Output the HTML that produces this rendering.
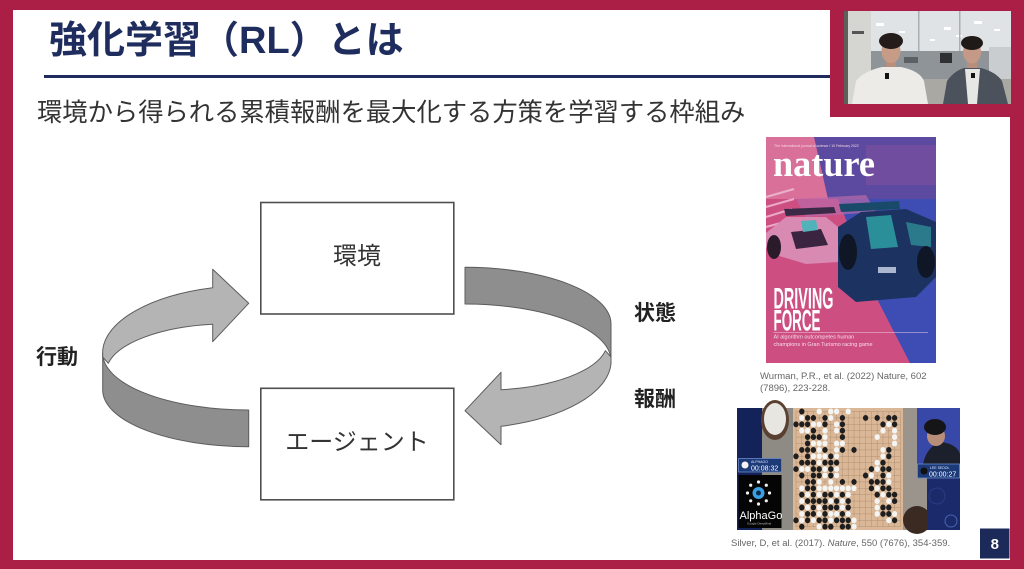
<!DOCTYPE html>
<html><head><meta charset="utf-8">
<style>
html,body{margin:0;padding:0;}
body{width:1024px;height:569px;position:relative;overflow:hidden;background:#ab1f47;font-family:"Liberation Sans","Noto Sans CJK JP",sans-serif;}
.a{position:absolute;white-space:nowrap;line-height:1;}
.jp{font-family:"Liberation Sans","Noto Sans CJK JP",sans-serif;}
</style></head><body>
<div class="a" style="left:13px;top:10px;width:997px;height:550px;background:#fff"></div>
<div class="a" style="left:830px;top:0;width:194px;height:117px;background:#ab1f47"></div>

<!-- title -->
<div class="a jp" style="left:49px;top:22px;font-size:38px;font-weight:700;color:#1e2d5e;">強化学習（RL）とは</div>
<div class="a" style="left:44px;top:75px;width:786px;height:2.5px;background:#1e2b5c"></div>
<div class="a jp" style="left:37px;top:100.5px;font-size:25.3px;color:#333;">環境から得られる累積報酬を最大化する方策を学習する枠組み</div>

<svg class="a" style="left:0;top:0" width="1024" height="569" viewBox="0 0 1024 569">
  <!-- boxes -->
  <rect x="260.8" y="202.5" width="193" height="111.5" fill="#fff" stroke="#4f4f4f" stroke-width="1.6"/>
  <rect x="260.8" y="388.3" width="193" height="111.5" fill="#fff" stroke="#4f4f4f" stroke-width="1.6"/>
  <!-- left arrow -->
  <g stroke="#5c5c5c" stroke-width="1" stroke-linejoin="round">
    <path d="M102.7 353 L102.7 390 A146 56.7 0 0 0 248.7 446.7 L248.7 410 A146 56.7 0 0 1 102.7 353 Z" fill="#8e8e8e"/>
    <path d="M248.7 303.3 L212.7 269.3 L212.7 287.7 A150 68 0 0 0 102.7 350 L102.7 357 L108.3 363.3 C118 343 160 327 212.7 324.3 L212.7 341.7 Z" fill="#b4b4b4"/>
  </g>
  <!-- right arrow (rotated copy) -->
  <g stroke="#5c5c5c" stroke-width="1" stroke-linejoin="round" transform="rotate(180 356.85 357)">
    <path d="M102.7 353 L102.7 390 A146 56.7 0 0 0 248.7 446.7 L248.7 410 A146 56.7 0 0 1 102.7 353 Z" fill="#8e8e8e"/>
    <path d="M248.7 303.3 L212.7 269.3 L212.7 287.7 A150 68 0 0 0 102.7 350 L102.7 357 L108.3 363.3 C118 343 160 327 212.7 324.3 L212.7 341.7 Z" fill="#b4b4b4"/>
  </g>

  <!-- webcam -->
  <g transform="translate(844,11)">
    <rect width="167" height="93" fill="#b8bcbf"/>
    <rect x="27" y="0" width="140" height="40" fill="#dfe3e6"/>
    <g fill="#fff"><rect x="32" y="12" width="8" height="3"/><rect x="55" y="20" width="6" height="2"/><rect x="100" y="16" width="7" height="3"/><rect x="130" y="10" width="8" height="3"/><rect x="150" y="18" width="6" height="2"/><rect x="86" y="28" width="5" height="2"/><rect x="112" y="24" width="6" height="2"/></g>
    <rect x="74" y="0" width="1.5" height="70" fill="#a8aeb2"/>
    <rect x="115" y="0" width="1.5" height="70" fill="#a8aeb2"/>
    <rect x="27" y="40" width="140" height="28" fill="#8f9498"/>
    <rect x="96" y="42" width="12" height="10" fill="#2e3034"/>
    <rect x="60" y="46" width="14" height="6" fill="#5b6064"/>
    <rect x="145" y="36" width="22" height="34" fill="#c9cdd0"/>
    <rect x="27" y="68" width="140" height="25" fill="#a9a8a3"/>
    <rect x="0" y="0" width="27" height="93" fill="#d5d5d1"/>
    <rect x="0" y="0" width="4" height="93" fill="#5e5e5a"/>
    <rect x="8" y="20" width="12" height="3" fill="#555"/>
    <!-- left person -->
    <path d="M8 93 L12 70 Q20 60 38 56 L57 56 Q76 60 80 70 L84 93 Z" fill="#ecebe8"/>
    <rect x="42" y="46" width="10" height="10" fill="#b88f7a"/>
    <ellipse cx="47" cy="40" rx="9.5" ry="12" fill="#c79c86"/>
    <ellipse cx="47" cy="30" rx="12" ry="8" fill="#231c1a"/>
    <rect x="41" y="62" width="4" height="6" fill="#111"/>
    <!-- right person -->
    <path d="M99 93 L103 70 Q110 60 120 57 L137 57 Q152 61 158 70 L164 93 Z" fill="#4b525b"/>
    <path d="M121 58 L136 58 L133 93 L124 93 Z" fill="#e6e6e4"/>
    <rect x="123" y="47" width="10" height="10" fill="#b88f7a"/>
    <ellipse cx="128" cy="41" rx="9" ry="11.5" fill="#c49a86"/>
    <ellipse cx="128" cy="32" rx="11" ry="7" fill="#1f1a18"/>
    <rect x="127" y="62" width="4" height="5" fill="#111"/>
  </g>

  <!-- nature cover -->
  <g transform="translate(766,137)">
    <rect width="170" height="226" fill="#cd4f82"/>
    <rect width="170" height="62" fill="#d9709a"/>
    <polygon points="48,0 170,0 170,226 144,226 110,160" fill="#3d4db3"/>
    <polygon points="48,0 170,0 170,62 62,62" fill="#5b4aa0"/>
    <rect x="100" y="8" width="70" height="40" fill="#7a4f9e" opacity=".7"/>
    <g stroke="#f0c0d8" stroke-width="2" opacity=".8"><line x1="0" y1="60" x2="28" y2="52"/><line x1="0" y1="70" x2="28" y2="62"/><line x1="0" y1="80" x2="26" y2="72"/><line x1="0" y1="90" x2="22" y2="84"/></g>
    <polygon points="30,62 100,58 110,75 40,80" fill="#b86aa8" opacity=".7"/>
    <!-- left car -->
    <polygon points="18,72 68,70 70,76 20,79" fill="#3a2a48"/>
    <polygon points="0,96 20,80 60,80 72,90 72,125 40,127 10,118 0,110" fill="#d88ab2"/>
    <polygon points="25,95 55,92 62,108 30,112" fill="#3a2440"/>
    <polygon points="35,84 50,83 52,93 37,95" fill="#52b2ba"/>
    <ellipse cx="8" cy="110" rx="7" ry="12" fill="#2a1a2a"/>
    <!-- right car -->
    <polygon points="73,67 133,64 134,72 75,75" fill="#1a4a6a"/>
    <polygon points="72,90 95,75 140,72 170,85 170,140 150,160 90,165 72,150" fill="#1c3260"/>
    <polygon points="100,80 125,78 132,110 105,112" fill="#2b8f9a"/>
    <polygon points="140,85 165,90 165,110 145,108" fill="#2a7a8c"/>
    <ellipse cx="82" cy="115" rx="9" ry="18" fill="#0f1626"/>
    <ellipse cx="160" cy="125" rx="9" ry="16" fill="#0f1626"/>
    <rect x="112" y="130" width="18" height="6" fill="#e8f0ff" opacity=".7"/>
    <text x="8" y="10" font-family="Liberation Sans,sans-serif" font-size="3.5" fill="#f6d6e4">The international journal of science / 10 February 2022</text>
    <text x="7" y="39" font-family="Liberation Serif,serif" font-weight="700" font-size="37" fill="#fff" textLength="102" lengthAdjust="spacingAndGlyphs">nature</text>
    <text x="7.5" y="171.5" font-family="Liberation Sans,sans-serif" font-weight="700" font-size="30" fill="#fff" textLength="60" lengthAdjust="spacingAndGlyphs">DRIVING</text>
    <text x="7.5" y="193.5" font-family="Liberation Sans,sans-serif" font-weight="700" font-size="30" fill="#fff" textLength="47" lengthAdjust="spacingAndGlyphs">FORCE</text>
    <line x1="7.5" y1="195.5" x2="162" y2="195.5" stroke="#f0d0e0" stroke-width=".5"/>
    <text x="7.5" y="201.5" font-family="Liberation Sans,sans-serif" font-size="5.5" fill="#f8dce8">AI algorithm outcompetes human</text>
    <text x="7.5" y="209" font-family="Liberation Sans,sans-serif" font-size="5.5" fill="#f8dce8">champions in Gran Turismo racing game</text>
  </g>

  <!-- AlphaGo image -->
  <g transform="translate(737,408)">
    <rect width="223" height="122" fill="#8e8a84"/>
    <rect x="0" y="0" width="25" height="122" fill="#13235a"/>
    <ellipse cx="38" cy="12" rx="14" ry="20" fill="#5a4030"/>
    <ellipse cx="38" cy="11" rx="11" ry="16" fill="#e8e6e0"/>
    <rect x="56" y="0" width="110" height="122" fill="#dab797"/>
    <rect x="166" y="0" width="24" height="122" fill="#9a948c"/>
    <ellipse cx="180" cy="112" rx="14" ry="14" fill="#3a2a22"/>
    <rect x="190" y="70" width="33" height="52" fill="#1a2a6a"/>
    <circle cx="214" cy="113" r="6" fill="none" stroke="#4a64b0" stroke-width="1"/>
    <circle cx="200" cy="88" r="8" fill="none" stroke="#2a3c84" stroke-width="1"/>
    <!-- person -->
    <rect x="180" y="0" width="43" height="56" fill="#3848a8"/>
    <path d="M186 56 Q190 38 204 34 Q220 36 223 46 L223 56 Z" fill="#1c1f2c"/>
    <ellipse cx="199" cy="28" rx="9" ry="10" fill="#b88e78"/>
    <ellipse cx="198" cy="19" rx="11" ry="8" fill="#151518"/>
    <!-- timers -->
    <rect x="1.5" y="50.5" width="43" height="13.5" fill="#1d3a78" stroke="#6a8ac8" stroke-width=".8"/>
    <circle cx="8" cy="57" r="3.5" fill="#f4f4f4"/>
    <text x="14" y="55" font-family="Liberation Sans,sans-serif" font-size="3.5" fill="#dfe8ff">ALPHAGO</text>
    <text x="14" y="62.5" font-family="Liberation Sans,sans-serif" font-size="7" fill="#fff">00:08:32</text>
    <rect x="180.5" y="56" width="42" height="14" fill="#1d3a78" stroke="#6a8ac8" stroke-width=".8"/>
    <circle cx="187" cy="63" r="3.5" fill="#111"/>
    <text x="193" y="61" font-family="Liberation Sans,sans-serif" font-size="3.5" fill="#dfe8ff">LEE SEDOL</text>
    <text x="192" y="68.5" font-family="Liberation Sans,sans-serif" font-size="7" fill="#fff">00:00:27</text>
    <!-- AlphaGo logo box -->
    <rect x="1.5" y="67" width="43" height="53" fill="#050505"/>
    <circle cx="21.5" cy="85" r="6" fill="#3aa0e0"/>
    <circle cx="21.5" cy="85" r="2.5" fill="#0a2a50"/>
    <g fill="#f0f0f0">
      <circle cx="21.5" cy="74" r="1.6"/><circle cx="29.3" cy="77.2" r="1.6"/><circle cx="32.5" cy="85" r="1.6"/><circle cx="29.3" cy="92.8" r="1.6"/>
      <circle cx="21.5" cy="96" r="1.6"/><circle cx="13.7" cy="92.8" r="1.6"/><circle cx="10.5" cy="85" r="1.6"/><circle cx="13.7" cy="77.2" r="1.6"/>
    </g>
    <text x="2.5" y="111" font-family="Liberation Sans,sans-serif" font-size="11" fill="#fff">AlphaGo</text>
    <text x="10" y="116.5" font-family="Liberation Sans,sans-serif" font-size="3" fill="#bbb">Google DeepMind</text>
    <!-- board grid -->
    <g stroke="#a88868" stroke-width=".4">
      <path d="M59 3.5 V118.7 M64.8 3.5 V118.7 M70.6 3.5 V118.7 M76.4 3.5 V118.7 M82.2 3.5 V118.7 M88 3.5 V118.7 M93.8 3.5 V118.7 M99.6 3.5 V118.7 M105.4 3.5 V118.7 M111.2 3.5 V118.7 M117 3.5 V118.7 M122.8 3.5 V118.7 M128.6 3.5 V118.7 M134.4 3.5 V118.7 M140.2 3.5 V118.7 M146 3.5 V118.7 M151.8 3.5 V118.7 M157.6 3.5 V118.7 M163.4 3.5 V118.7"/>
      <path d="M59 3.5 H163.4 M59 9.9 H163.4 M59 16.3 H163.4 M59 22.7 H163.4 M59 29.1 H163.4 M59 35.5 H163.4 M59 41.9 H163.4 M59 48.3 H163.4 M59 54.7 H163.4 M59 61.1 H163.4 M59 67.5 H163.4 M59 73.9 H163.4 M59 80.3 H163.4 M59 86.7 H163.4 M59 93.1 H163.4 M59 99.5 H163.4 M59 105.9 H163.4 M59 112.3 H163.4 M59 118.7 H163.4"/>
    </g>
    <g transform="translate(59,3.5) scale(5.8,6.4)">
      <g fill="#1e1e1e">
        <circle cx="1" cy="0" r=".46"/>
        <circle cx="2" cy="1" r=".46"/><circle cx="3" cy="1" r=".46"/><circle cx="5" cy="1" r=".46"/><circle cx="8" cy="1" r=".46"/><circle cx="12" cy="1" r=".46"/><circle cx="14" cy="1" r=".46"/><circle cx="16" cy="1" r=".46"/><circle cx="17" cy="1" r=".46"/>
        <circle cx="0" cy="2" r=".46"/><circle cx="1" cy="2" r=".46"/><circle cx="2" cy="2" r=".46"/><circle cx="5" cy="2" r=".46"/><circle cx="8" cy="2" r=".46"/><circle cx="15" cy="2" r=".46"/><circle cx="17" cy="2" r=".46"/>
        <circle cx="3" cy="3" r=".46"/><circle cx="8" cy="3" r=".46"/>
        <circle cx="2" cy="4" r=".46"/><circle cx="3" cy="4" r=".46"/><circle cx="4" cy="4" r=".46"/><circle cx="8" cy="4" r=".46"/>
        <circle cx="2" cy="5" r=".46"/>
        <circle cx="1" cy="6" r=".46"/><circle cx="2" cy="6" r=".46"/><circle cx="3" cy="6" r=".46"/><circle cx="5" cy="6" r=".46"/><circle cx="8" cy="6" r=".46"/><circle cx="10" cy="6" r=".46"/><circle cx="16" cy="6" r=".46"/>
        <circle cx="0" cy="7" r=".46"/><circle cx="2" cy="7" r=".46"/><circle cx="6" cy="7" r=".46"/><circle cx="16" cy="7" r=".46"/>
        <circle cx="1" cy="8" r=".46"/><circle cx="2" cy="8" r=".46"/><circle cx="3" cy="8" r=".46"/><circle cx="5" cy="8" r=".46"/><circle cx="6" cy="8" r=".46"/><circle cx="7" cy="8" r=".46"/><circle cx="15" cy="8" r=".46"/>
        <circle cx="0" cy="9" r=".46"/><circle cx="3" cy="9" r=".46"/><circle cx="4" cy="9" r=".46"/><circle cx="6" cy="9" r=".46"/><circle cx="13" cy="9" r=".46"/><circle cx="15" cy="9" r=".46"/><circle cx="16" cy="9" r=".46"/>
        <circle cx="1" cy="10" r=".46"/><circle cx="3" cy="10" r=".46"/><circle cx="4" cy="10" r=".46"/><circle cx="6" cy="10" r=".46"/><circle cx="12" cy="10" r=".46"/><circle cx="15" cy="10" r=".46"/>
        <circle cx="2" cy="11" r=".46"/><circle cx="3" cy="11" r=".46"/><circle cx="8" cy="11" r=".46"/><circle cx="10" cy="11" r=".46"/><circle cx="13" cy="11" r=".46"/><circle cx="14" cy="11" r=".46"/><circle cx="15" cy="11" r=".46"/>
        <circle cx="2" cy="12" r=".46"/><circle cx="3" cy="12" r=".46"/><circle cx="13" cy="12" r=".46"/><circle cx="15" cy="12" r=".46"/><circle cx="16" cy="12" r=".46"/>
        <circle cx="1" cy="13" r=".46"/><circle cx="3" cy="13" r=".46"/><circle cx="5" cy="13" r=".46"/><circle cx="6" cy="13" r=".46"/><circle cx="8" cy="13" r=".46"/><circle cx="14" cy="13" r=".46"/><circle cx="16" cy="13" r=".46"/><circle cx="17" cy="13" r=".46"/>
        <circle cx="2" cy="14" r=".46"/><circle cx="3" cy="14" r=".46"/><circle cx="4" cy="14" r=".46"/><circle cx="5" cy="14" r=".46"/><circle cx="7" cy="14" r=".46"/><circle cx="9" cy="14" r=".46"/><circle cx="17" cy="14" r=".46"/>
        <circle cx="1" cy="15" r=".46"/><circle cx="3" cy="15" r=".46"/><circle cx="5" cy="15" r=".46"/><circle cx="6" cy="15" r=".46"/><circle cx="7" cy="15" r=".46"/><circle cx="9" cy="15" r=".46"/><circle cx="15" cy="15" r=".46"/><circle cx="16" cy="15" r=".46"/>
        <circle cx="2" cy="16" r=".46"/><circle cx="3" cy="16" r=".46"/><circle cx="5" cy="16" r=".46"/><circle cx="8" cy="16" r=".46"/><circle cx="15" cy="16" r=".46"/><circle cx="16" cy="16" r=".46"/>
        <circle cx="0" cy="17" r=".46"/><circle cx="2" cy="17" r=".46"/><circle cx="4" cy="17" r=".46"/><circle cx="5" cy="17" r=".46"/><circle cx="7" cy="17" r=".46"/><circle cx="8" cy="17" r=".46"/><circle cx="9" cy="17" r=".46"/><circle cx="17" cy="17" r=".46"/>
        <circle cx="1" cy="18" r=".46"/><circle cx="5" cy="18" r=".46"/><circle cx="6" cy="18" r=".46"/><circle cx="8" cy="18" r=".46"/><circle cx="9" cy="18" r=".46"/>
      </g>
      <g fill="#f4f4f2">
        <circle cx="4" cy="0" r=".46"/><circle cx="6" cy="0" r=".46"/><circle cx="7" cy="0" r=".46"/><circle cx="9" cy="0" r=".46"/>
        <circle cx="1" cy="1" r=".46"/><circle cx="6" cy="1" r=".46"/>
        <circle cx="3" cy="2" r=".46"/><circle cx="4" cy="2" r=".46"/><circle cx="7" cy="2" r=".46"/><circle cx="16" cy="2" r=".46"/>
        <circle cx="1" cy="3" r=".46"/><circle cx="2" cy="3" r=".46"/><circle cx="5" cy="3" r=".46"/><circle cx="7" cy="3" r=".46"/><circle cx="15" cy="3" r=".46"/><circle cx="17" cy="3" r=".46"/>
        <circle cx="5" cy="4" r=".46"/><circle cx="14" cy="4" r=".46"/><circle cx="17" cy="4" r=".46"/>
        <circle cx="3" cy="5" r=".46"/><circle cx="4" cy="5" r=".46"/><circle cx="5" cy="5" r=".46"/><circle cx="7" cy="5" r=".46"/><circle cx="8" cy="5" r=".46"/><circle cx="17" cy="5" r=".46"/>
        <circle cx="4" cy="6" r=".46"/><circle cx="7" cy="6" r=".46"/><circle cx="15" cy="6" r=".46"/>
        <circle cx="3" cy="7" r=".46"/><circle cx="4" cy="7" r=".46"/><circle cx="5" cy="7" r=".46"/><circle cx="7" cy="7" r=".46"/><circle cx="15" cy="7" r=".46"/>
        <circle cx="4" cy="8" r=".46"/><circle cx="14" cy="8" r=".46"/>
        <circle cx="1" cy="9" r=".46"/><circle cx="2" cy="9" r=".46"/><circle cx="5" cy="9" r=".46"/><circle cx="7" cy="9" r=".46"/><circle cx="14" cy="9" r=".46"/>
        <circle cx="5" cy="10" r=".46"/><circle cx="7" cy="10" r=".46"/><circle cx="13" cy="10" r=".46"/><circle cx="16" cy="10" r=".46"/>
        <circle cx="4" cy="11" r=".46"/><circle cx="6" cy="11" r=".46"/><circle cx="16" cy="11" r=".46"/>
        <circle cx="1" cy="12" r=".46"/><circle cx="4" cy="12" r=".46"/><circle cx="5" cy="12" r=".46"/><circle cx="6" cy="12" r=".46"/><circle cx="7" cy="12" r=".46"/><circle cx="8" cy="12" r=".46"/><circle cx="9" cy="12" r=".46"/><circle cx="10" cy="12" r=".46"/><circle cx="14" cy="12" r=".46"/>
        <circle cx="2" cy="13" r=".46"/><circle cx="4" cy="13" r=".46"/><circle cx="7" cy="13" r=".46"/><circle cx="9" cy="13" r=".46"/><circle cx="15" cy="13" r=".46"/>
        <circle cx="1" cy="14" r=".46"/><circle cx="6" cy="14" r=".46"/><circle cx="8" cy="14" r=".46"/><circle cx="14" cy="14" r=".46"/><circle cx="16" cy="14" r=".46"/>
        <circle cx="2" cy="15" r=".46"/><circle cx="4" cy="15" r=".46"/><circle cx="8" cy="15" r=".46"/><circle cx="14" cy="15" r=".46"/>
        <circle cx="1" cy="16" r=".46"/><circle cx="4" cy="16" r=".46"/><circle cx="6" cy="16" r=".46"/><circle cx="7" cy="16" r=".46"/><circle cx="9" cy="16" r=".46"/><circle cx="14" cy="16" r=".46"/><circle cx="17" cy="16" r=".46"/>
        <circle cx="1" cy="17" r=".46"/><circle cx="3" cy="17" r=".46"/><circle cx="6" cy="17" r=".46"/><circle cx="10" cy="17" r=".46"/><circle cx="16" cy="17" r=".46"/>
        <circle cx="4" cy="18" r=".46"/><circle cx="10" cy="18" r=".46"/>
      </g>
    </g>
  </g>

  <!-- page number -->
  <rect x="980" y="528.5" width="29.5" height="30" fill="#1c2a5a"/>
  <text x="994.8" y="549" text-anchor="middle" font-family="Liberation Sans,sans-serif" font-weight="700" font-size="15" fill="#fff">8</text>
</svg>

<!-- diagram labels -->
<div class="a jp" style="left:260px;width:194px;text-align:center;top:245px;font-size:24px;color:#333;">環境</div>
<div class="a jp" style="left:260px;width:194px;text-align:center;top:431px;font-size:24px;color:#333;">エージェント</div>
<div class="a jp" style="left:36px;top:346.5px;font-size:21px;font-weight:700;color:#222;">行動</div>
<div class="a jp" style="left:634px;top:302.5px;font-size:21px;font-weight:700;color:#222;">状態</div>
<div class="a jp" style="left:634px;top:388.5px;font-size:21px;font-weight:700;color:#222;">報酬</div>

<!-- citations -->
<div class="a" style="left:760px;top:371px;font-size:9.5px;line-height:11.5px;color:#666;">Wurman, P.R., et al. (2022) Nature, 602<br>(7896), 223-228.</div>
<div class="a" style="left:731px;top:538.5px;font-size:9.5px;color:#666;">Silver, D, et al. (2017). <i>Nature</i>, 550 (7676), 354-359.</div>
</body></html>
